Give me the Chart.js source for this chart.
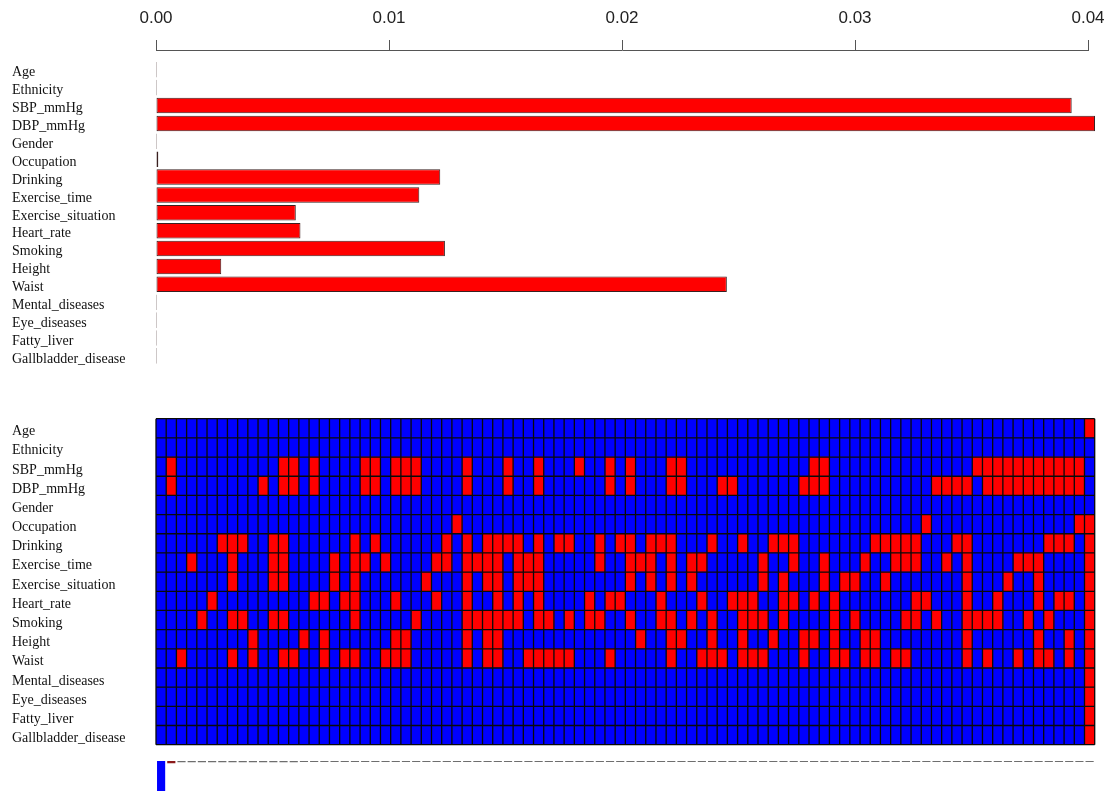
<!DOCTYPE html>
<html>
<head>
<meta charset="utf-8">
<script src="https://cdn.jsdelivr.net/npm/chart.js@4.4.0/dist/chart.umd.min.js"></script>
<style>
  html, body { margin: 0; padding: 0; background: #fff; width: 1120px; height: 791px; overflow: hidden; }
  canvas { position: absolute; left: 0; }
</style>
</head>
<body>
<canvas id="importance" width="1120" height="372" style="top:0"></canvas>
<canvas id="selection" width="1120" height="345" style="top:410px"></canvas>
<canvas id="modelProb" width="1120" height="36" style="top:755px"></canvas>
<script>
// Predictor names, top to bottom
const featureNames = [
  'Age', 'Ethnicity', 'SBP_mmHg', 'DBP_mmHg', 'Gender', 'Occupation', 'Drinking',
  'Exercise_time', 'Exercise_situation', 'Heart_rate', 'Smoking', 'Height', 'Waist',
  'Mental_diseases', 'Eye_diseases', 'Fatty_liver', 'Gallbladder_disease'
];

// Importance of each predictor (upper panel)
const importance = [
  0, 0, 0.0393, 0.0403, 0, 0.0001, 0.0122,
  0.0113, 0.0060, 0.0062, 0.0124, 0.0028, 0.0245,
  0, 0, 0, 0
];

// Tick values of the importance axis
const importanceTicks = [0, 0.01, 0.02, 0.03, 0.04];

// Models (columns) in which each predictor is included, same order as featureNames
const includedIn = [
  [91],
  [],
  [1, 12, 13, 15, 20, 21, 23, 24, 25, 30, 34, 37, 41, 44, 46, 50, 51, 64, 65, 80, 81, 82, 83, 84, 85, 86, 87, 88, 89, 90],
  [1, 10, 12, 13, 15, 20, 21, 23, 24, 25, 30, 34, 37, 44, 46, 50, 51, 55, 56, 63, 64, 65, 76, 77, 78, 79, 81, 82, 83, 84, 85, 86, 87, 88, 89, 90],
  [],
  [29, 75, 90, 91],
  [6, 7, 8, 11, 12, 19, 21, 28, 30, 32, 33, 34, 35, 37, 39, 40, 43, 45, 46, 48, 49, 50, 54, 57, 60, 61, 62, 70, 71, 72, 73, 74, 78, 79, 87, 88, 89, 91],
  [3, 7, 11, 12, 17, 19, 20, 22, 27, 28, 30, 31, 32, 33, 35, 36, 37, 43, 46, 47, 48, 50, 52, 53, 59, 62, 65, 69, 72, 73, 74, 77, 79, 84, 85, 86, 91],
  [7, 11, 12, 17, 19, 26, 30, 32, 33, 35, 36, 37, 46, 48, 50, 52, 59, 61, 65, 67, 68, 71, 79, 83, 86, 91],
  [5, 15, 16, 18, 19, 23, 27, 30, 33, 35, 37, 42, 44, 45, 49, 53, 56, 57, 58, 61, 62, 64, 66, 74, 75, 79, 82, 86, 88, 89, 91],
  [4, 7, 8, 11, 12, 19, 25, 30, 31, 32, 33, 34, 35, 37, 38, 40, 42, 43, 46, 49, 50, 52, 54, 57, 58, 59, 61, 66, 68, 73, 74, 76, 79, 80, 81, 82, 85, 87, 91],
  [9, 14, 16, 23, 24, 30, 32, 33, 47, 50, 51, 54, 57, 60, 63, 64, 66, 69, 70, 79, 86, 89, 91],
  [2, 7, 9, 12, 13, 16, 18, 19, 22, 23, 24, 30, 32, 33, 36, 37, 38, 39, 40, 44, 50, 53, 54, 55, 57, 58, 59, 63, 66, 67, 69, 70, 72, 73, 79, 81, 84, 86, 87, 89, 91],
  [91],
  [91],
  [91],
  [91]
];

// Posterior probability of each model (bottom strip)
const modelProbability = [
  0.55, 0.0075, 0.0045, 0.0045, 0.0045, 0.0045, 0.0042, 0.0042, 0.0040, 0.0040,
  0.0040, 0.0040, 0.0038, 0.0038, 0.0035, 0.0035, 0.0033, 0.0033, 0.0032, 0.0032,
  0.0031, 0.0031, 0.0031, 0.0030, 0.0030, 0.0030, 0.0030, 0.0030, 0.0030, 0.0030,
  0.0030, 0.0030, 0.0030, 0.0030, 0.0030, 0.0030, 0.0030, 0.0030, 0.0030, 0.0030,
  0.0030, 0.0030, 0.0030, 0.0030, 0.0030, 0.0030, 0.0030, 0.0030, 0.0030, 0.0030,
  0.0030, 0.0030, 0.0030, 0.0030, 0.0030, 0.0030, 0.0030, 0.0030, 0.0030, 0.0030,
  0.0030, 0.0030, 0.0030, 0.0030, 0.0030, 0.0030, 0.0030, 0.0030, 0.0030, 0.0030,
  0.0030, 0.0030, 0.0030, 0.0030, 0.0030, 0.0030, 0.0030, 0.0030, 0.0030, 0.0030,
  0.0030, 0.0030, 0.0030, 0.0030, 0.0030, 0.0030, 0.0030, 0.0030, 0.0030, 0.0030,
  0.0030, 0.0030
];

const RED = '#ff0000';
const BLUE = '#0000ff';
const labelFont = { family: "'Liberation Serif', 'Times New Roman', serif", size: 14 };
// Small downward nudge (in row units) so serif labels sit on the row centre
const LABEL_NUDGE = 0.17;

Chart.defaults.animation = false;
Chart.defaults.devicePixelRatio = 1;

// Row-label axis of fixed width, without the end-label padding
const fixedLabelAxis = (s) => {
  s.width = 144;
  s.paddingTop = 0;
  s.paddingBottom = 0;
};
const rowLabelTicks = (s) => { s.ticks = featureNames.map((_, i) => ({ value: i + LABEL_NUDGE })); };
const rowLabelOptions = {
  callback: (v) => featureNames[Math.round(v)],
  crossAlign: 'far',
  autoSkip: false,
  font: labelFont,
  color: '#111'
};

// ---------- Upper panel: horizontal importance bars ----------
new Chart(document.getElementById('importance'), {
  type: 'bar',
  data: {
    datasets: [{
      data: importance.map((v, i) => ({ x: v, y: i })),
      backgroundColor: RED,
      borderColor: '#3a2020',
      borderWidth: 1,
      borderSkipped: false,
      minBarLength: 1,
      barPercentage: 0.87,
      categoryPercentage: 1,
      clip: false
    }]
  },
  options: {
    indexAxis: 'y',
    responsive: false,
    layout: { padding: { left: 12, right: 32, top: 0, bottom: 2 } },
    plugins: { legend: { display: false }, tooltip: { enabled: false } },
    scales: {
      x: {
        type: 'linear',
        position: 'top',
        min: 0,
        max: 0.04,
        afterBuildTicks: (s) => { s.ticks = importanceTicks.map(v => ({ value: v })); },
        afterFit: (s) => { s.height = 50; },
        ticks: {
          callback: (v) => Number(v).toFixed(2),
          font: { family: "'Liberation Sans', Arial, sans-serif", size: 17 },
          color: '#222',
          padding: 11,
          maxRotation: 0
        },
        grid: { drawOnChartArea: false, drawTicks: true, tickLength: 10, color: '#555' },
        border: { display: true, color: '#555' }
      },
      y: {
        type: 'linear',
        reverse: true,
        offset: false,
        min: -1.105,
        max: 16.79,
        afterBuildTicks: rowLabelTicks,
        afterFit: fixedLabelAxis,
        ticks: rowLabelOptions,
        grid: { display: false },
        border: { display: false }
      }
    }
  }
});

// ---------- Middle panel: inclusion matrix ----------
const modelIndex = modelProbability.map((_, i) => i);

// Cell outlines along the scale boundaries
const cellGrid = {
  id: 'cellGrid',
  afterDatasetsDraw(chart) {
    const { ctx, chartArea: a, scales: { x, y } } = chart;
    const rows = featureNames.length;
    const rowH = (a.bottom - a.top) / rows;
    ctx.save();
    ctx.strokeStyle = '#0a0a0a';
    ctx.lineWidth = 1.3;
    ctx.beginPath();
    for (let c = 0; c <= modelIndex.length; c++) {
      const px = x.getPixelForValue(c);
      ctx.moveTo(px, a.top);
      ctx.lineTo(px, a.bottom);
    }
    for (let r = 0; r <= rows; r++) {
      const py = y.getPixelForValue(r) - rowH / 2;
      ctx.moveTo(a.left, py);
      ctx.lineTo(a.right, py);
    }
    ctx.stroke();
    ctx.restore();
  }
};

new Chart(document.getElementById('selection'), {
  type: 'bar',
  data: {
    labels: featureNames,
    datasets: modelIndex.map(m => ({
      data: featureNames.map(() => 1),
      backgroundColor: featureNames.map((_, r) => includedIn[r].includes(m) ? RED : BLUE),
      borderWidth: 0,
      barPercentage: 1,
      categoryPercentage: 1
    }))
  },
  options: {
    indexAxis: 'y',
    responsive: false,
    layout: { padding: { left: 12, right: 25.3, top: 8.7, bottom: 10.3 } },
    plugins: { legend: { display: false }, tooltip: { enabled: false } },
    scales: {
      x: { stacked: true, min: 0, max: modelIndex.length, display: false },
      y: { stacked: true, display: false },
      rowLabels: {
        axis: 'y',
        type: 'linear',
        position: 'left',
        reverse: true,
        offset: false,
        min: -0.5,
        max: featureNames.length - 0.5,
        afterBuildTicks: rowLabelTicks,
        afterFit: fixedLabelAxis,
        ticks: rowLabelOptions,
        grid: { display: false },
        border: { display: false }
      }
    }
  },
  plugins: [cellGrid]
});

// ---------- Bottom strip: model probabilities hanging from the top ----------
new Chart(document.getElementById('modelProb'), {
  type: 'bar',
  data: {
    labels: modelIndex.map(i => String(i + 1)),
    datasets: [{
      data: modelProbability,
      backgroundColor: (ctx) => ctx.dataIndex === 0 ? BLUE : (ctx.dataIndex === 1 ? '#8b1a1a' : '#6e6e6e'),
      borderWidth: 0,
      barPercentage: 0.8,
      categoryPercentage: 1
    }]
  },
  options: {
    responsive: false,
    layout: { padding: { left: 156, right: 25.3, top: 6, bottom: 0 } },
    plugins: { legend: { display: false }, tooltip: { enabled: false } },
    scales: {
      x: { display: false },
      y: { display: false, reverse: true, min: 0, max: 0.1 }
    }
  }
});
</script>
</body>
</html>
